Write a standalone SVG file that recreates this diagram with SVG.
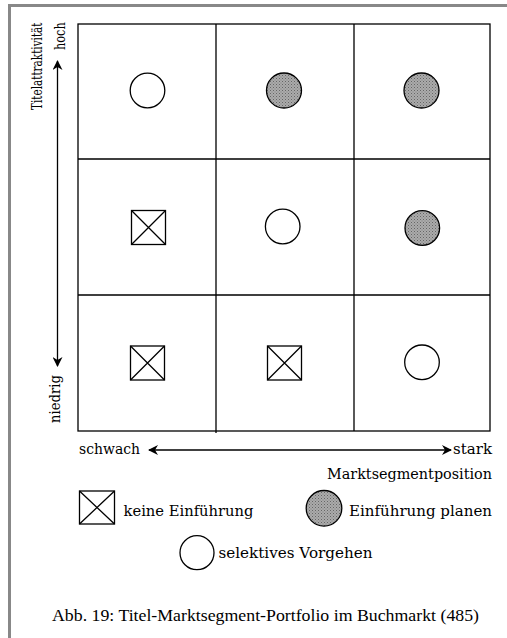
<svg xmlns="http://www.w3.org/2000/svg" width="507" height="638" viewBox="0 0 507 638">
<style>
.ln{stroke:#000;stroke-width:1.3;fill:none}
.grid{stroke:#000;stroke-width:1.3;fill:none}
.sym{stroke:#000;stroke-width:1.3}
.open{fill:#fff}
.gray{fill:url(#dots)}
.t{font-family:"DejaVu Serif","Liberation Serif",serif;font-size:14.5px;fill:#000}
.cap{font-family:"Liberation Serif","Times New Roman",serif;font-size:16.5px;fill:#000}
</style>
<defs>
<pattern id="dots" width="3" height="3" patternUnits="userSpaceOnUse">
<rect width="3" height="3" fill="#ababab"/>
<rect width="1" height="1" fill="#666"/>
<rect x="1.5" y="1.5" width="1" height="1" fill="#7a7a7a"/>
</pattern>
<marker id="ah" viewBox="0 0 10 10" refX="9" refY="5" markerWidth="10" markerHeight="10" markerUnits="userSpaceOnUse" orient="auto-start-reverse">
<path d="M0,0 L10,5 L0,10 L3,5 Z" fill="#000"/>
</marker>
<g id="xbox"><rect x="0" y="0" width="34" height="34" class="sym" fill="#fff"/><path d="M0,0 L34,34 M34,0 L0,34" class="sym" fill="none"/></g>
</defs>
<rect width="507" height="638" fill="#fff"/>
<path d="M9.5,638 V5.5 H507" stroke="#888" stroke-width="3" fill="none"/>

<g id="grid">
<rect x="78" y="24" width="412" height="407" class="grid"/>
<path d="M216,24 V433 M354,24 V431 M78,159 H490 M78,295 H490" class="grid"/>
</g>

<g id="connectors">
<path d="M57.5,366 V61" class="ln" marker-end="url(#ah)" marker-start="url(#ah)"/>
<path d="M149,450 H451" class="ln" marker-end="url(#ah)" marker-start="url(#ah)"/>
</g>

<g id="r1c1"><circle cx="147.5" cy="90.5" r="17.3" class="sym open"/></g>
<g id="r1c2"><circle cx="284" cy="90.5" r="17.5" class="sym gray"/></g>
<g id="r1c3"><circle cx="421.5" cy="90.5" r="17.5" class="sym gray"/></g>
<g id="r2c1"><use href="#xbox" x="131.5" y="210.5"/></g>
<g id="r2c2"><circle cx="282.7" cy="226.5" r="17.3" class="sym open"/></g>
<g id="r2c3"><circle cx="422.3" cy="228" r="17.3" class="sym gray"/></g>
<g id="r3c1"><use href="#xbox" x="130.5" y="346"/></g>
<g id="r3c2"><use href="#xbox" x="267.5" y="346"/></g>
<g id="r3c3"><circle cx="422" cy="362.3" r="17.3" class="sym open"/></g>

<g id="axis-labels">
<text class="t" transform="translate(41.5,110) rotate(-90) scale(0.72,1)">Titelattraktivität</text>
<text class="t" transform="translate(65,50) rotate(-90) scale(0.78,1)">hoch</text>
<text class="t" transform="translate(60,423) rotate(-90) scale(0.91,1)">niedrig</text>
<text class="t" x="79" y="454" textLength="61" lengthAdjust="spacingAndGlyphs">schwach</text>
<text class="t" x="453" y="454" textLength="39" lengthAdjust="spacingAndGlyphs">stark</text>
<text class="t" x="327" y="479" textLength="165" lengthAdjust="spacingAndGlyphs">Marktsegmentposition</text>
</g>

<g id="legend-keine">
<rect x="79.5" y="491" width="35" height="33" class="sym" fill="#fff"/>
<path d="M79.5,491 L114.5,524 M114.5,491 L79.5,524" class="sym" fill="none"/>
<text class="t" x="123.5" y="516" textLength="130" lengthAdjust="spacingAndGlyphs">keine Einführung</text>
</g>
<g id="legend-planen">
<circle cx="324" cy="508.3" r="17.8" class="sym gray"/>
<text class="t" x="349" y="516" textLength="143" lengthAdjust="spacingAndGlyphs">Einführung planen</text>
</g>
<g id="legend-selektiv">
<circle cx="197" cy="552.7" r="17" class="sym open"/>
<text class="t" x="218.5" y="558" textLength="154" lengthAdjust="spacingAndGlyphs">selektives Vorgehen</text>
</g>

<text class="cap" x="52" y="621" textLength="427" lengthAdjust="spacingAndGlyphs">Abb. 19: Titel-Marktsegment-Portfolio im Buchmarkt (485)</text>
</svg>
